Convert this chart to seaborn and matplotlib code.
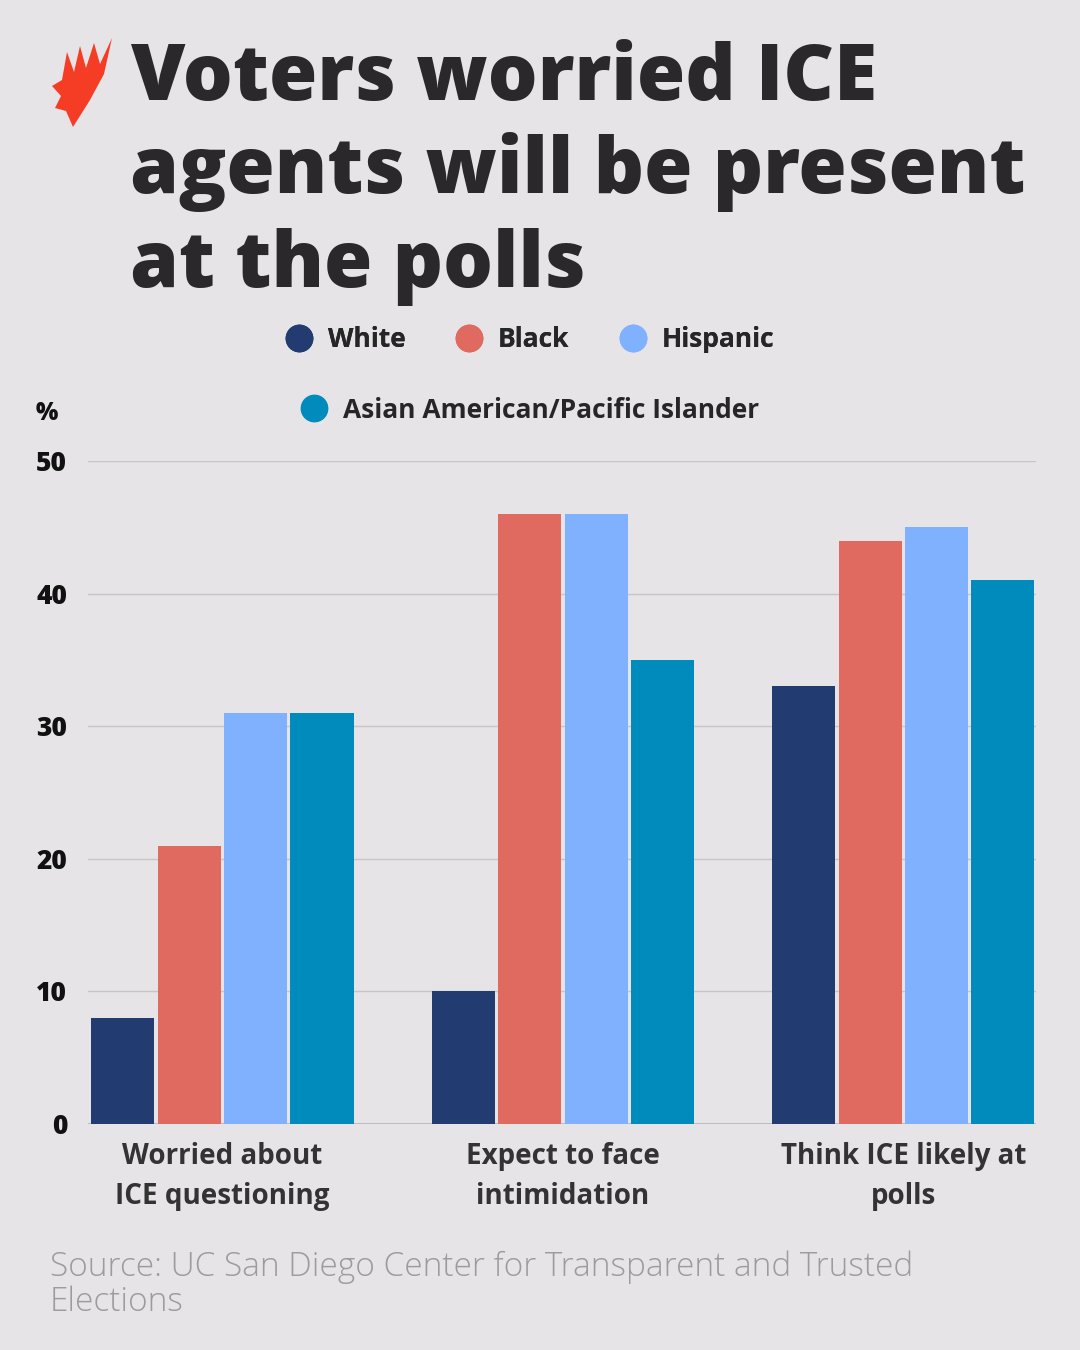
import pandas as pd
import matplotlib.pyplot as plt
import seaborn as sns
from matplotlib.lines import Line2D
from matplotlib.patches import Polygon

# Data
questions = ["Worried about\nICE questioning", "Expect to face\nintimidation", "Think ICE likely at\npolls"]
groups = ["White", "Black", "Hispanic", "Asian American/Pacific Islander"]
white = [8, 10, 33]
black = [21, 46, 44]
hispanic = [31, 46, 45]
asian = [31, 35, 41]
yticks = [0, 10, 20, 30, 40, 50]

colors = ["#223c72", "#e06a60", "#80b1ff", "#008bbd"]
bg = "#e6e4e7"

rows = []
for g, vals in zip(groups, [white, black, hispanic, asian]):
    for q, v in zip(questions, vals):
        rows.append({"question": q, "group": g, "value": v})
df = pd.DataFrame(rows)

sns.set_theme(style="white")
plt.rcParams["font.family"] = ["Open Sans", "DejaVu Sans"]

W, H = 1080, 1350
fig = plt.figure(figsize=(10.8, 13.5), dpi=100)
fig.patch.set_facecolor(bg)

ax = fig.add_axes([88 / W, 226 / H, 948 / W, 663 / H])
ax.set_facecolor(bg)
sns.barplot(data=df, x="question", y="value", hue="group", order=questions,
            hue_order=groups, palette=colors, saturation=1, width=0.78,
            gap=0.05, legend=False, linewidth=0, ax=ax)

ax.set_xlim(-0.395, 2.39)
ax.set_ylim(0, 50)
ax.set_yticks(yticks)
ax.set_yticklabels([str(t) for t in yticks], fontsize=19, fontweight="heavy", color="#111111")
ax.set_xticks(range(len(questions)))
ax.set_xticklabels(questions, fontsize=20, fontweight="bold", color="#333333",
                   linespacing=1.5)
ax.tick_params(axis="y", length=0, pad=15)
ax.tick_params(axis="x", length=0, pad=13)
ax.set_xlabel("")
ax.set_ylabel("")
for s in ax.spines.values():
    s.set_visible(False)
ax.set_axisbelow(True)
ax.yaxis.grid(True, color="#c6c5c8", linewidth=1)
ax.axhline(0, color="#b5b4b7", linewidth=1.2, zorder=0.5)

# percent label
fig.text(47 / W, 1 - 413 / H, "%", fontsize=17, fontweight="heavy", color="#111111",
         ha="center", va="center")

# Title
title_lines = ["Voters worried ICE", "agents will be present", "at the polls"]
for line, base in zip(title_lines, [100, 193, 287]):
    fig.text(130 / W, 1 - base / H, line, fontsize=56.5, fontweight="heavy",
             color="#2a282b", ha="left", va="baseline")

# Logo
pts = [(73, 127), (90, 100), (104, 74), (112, 38), (100, 64), (94, 43), (86, 68),
       (80, 46), (74, 72), (67, 52), (62, 80), (52, 86), (61, 96), (55, 108),
       (66, 111)]
logo = Polygon([(x / W, 1 - y / H) for x, y in pts], closed=True,
               transform=fig.transFigure, facecolor="#f53c25", edgecolor="none")
fig.patches.append(logo)

# Legend
handles = [Line2D([], [], marker="o", linestyle="", markersize=19,
                  markerfacecolor=c, markeredgecolor=c) for c in colors]
lprop = {"size": 19, "weight": "bold"}
leg1 = fig.legend(handles[:3], groups[:3], ncol=3, loc="center",
                  bbox_to_anchor=(530 / W, 1 - 340 / H), frameon=False, prop=lprop,
                  handlelength=1.0, handletextpad=0.6, columnspacing=1.9)
fig.legend(handles[3:], groups[3:], ncol=1, loc="center",
           bbox_to_anchor=(530 / W, 1 - 410 / H), frameon=False, prop=lprop,
           handlelength=1.0, handletextpad=0.6)
fig.add_artist(leg1)

# Source
fig.text(50 / W, 1 - 1276 / H, "Source: UC San Diego Center for Transparent and Trusted",
         fontsize=24, fontweight="light", color="#9c9b9f", ha="left", va="baseline")
fig.text(50 / W, 1 - 1311 / H, "Elections",
         fontsize=24, fontweight="light", color="#9c9b9f", ha="left", va="baseline")

fig.savefig("out.png", dpi=100, facecolor=bg)
